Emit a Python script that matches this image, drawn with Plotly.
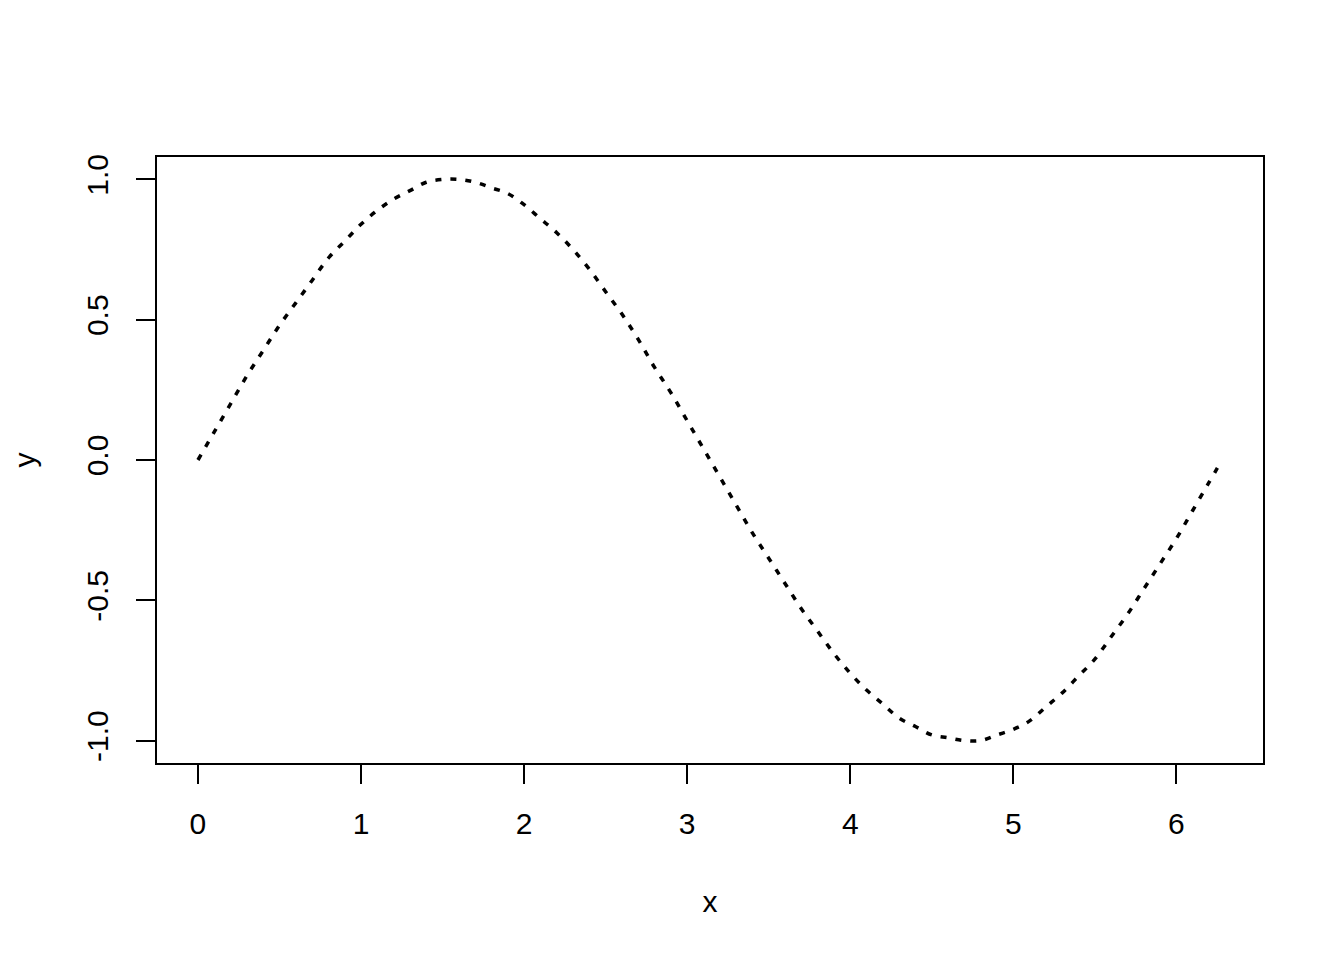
import plotly.graph_objects as go

x_vals = [0.0, 0.1, 0.2, 0.3, 0.4, 0.5, 0.6, 0.7, 0.8, 0.9,
          1.0, 1.1, 1.2, 1.3, 1.4, 1.5, 1.6, 1.7, 1.8, 1.9,
          2.0, 2.1, 2.2, 2.3, 2.4, 2.5, 2.6, 2.7, 2.8, 2.9,
          3.0, 3.1, 3.2, 3.3, 3.4, 3.5, 3.6, 3.7, 3.8, 3.9,
          4.0, 4.1, 4.2, 4.3, 4.4, 4.5, 4.6, 4.7, 4.8, 4.9,
          5.0, 5.1, 5.2, 5.3, 5.4, 5.5, 5.6, 5.7, 5.8, 5.9,
          6.0, 6.1, 6.2, 6.28]
y_vals = [0.00, 0.10, 0.20, 0.30, 0.39, 0.48, 0.56, 0.64, 0.72, 0.78,
          0.84, 0.89, 0.93, 0.96, 0.99, 1.00, 1.00, 0.99, 0.97, 0.95,
          0.91, 0.86, 0.81, 0.75, 0.68, 0.60, 0.52, 0.43, 0.33, 0.24,
          0.14, 0.04, -0.06, -0.16, -0.26, -0.35, -0.44, -0.53, -0.61, -0.69,
          -0.76, -0.82, -0.87, -0.92, -0.95, -0.98, -0.99, -1.00, -1.00, -0.98,
          -0.96, -0.93, -0.88, -0.83, -0.77, -0.71, -0.63, -0.55, -0.46, -0.37,
          -0.28, -0.18, -0.08, 0.00]
x_ticks = [0, 1, 2, 3, 4, 5, 6]
y_ticks = [-1.0, -0.5, 0.0, 0.5, 1.0]
y_tick_text = ["-1.0", "-0.5", "0.0", "0.5", "1.0"]

FONT = "Liberation Sans, Arial, sans-serif"
FS = 30

fig = go.Figure()
fig.add_trace(go.Scatter(
    x=x_vals, y=y_vals, mode="lines",
    line=dict(color="black", width=3.5, dash="6px,9px", shape="spline"),
    showlegend=False, hoverinfo="skip",
))

xr = [x_vals[0] - 0.04 * (x_vals[-1] - x_vals[0]), x_vals[-1] + 0.04 * (x_vals[-1] - x_vals[0])]
yr = [-1.08, 1.08]

fig.update_layout(
    width=1328, height=944,
    margin=dict(l=149, r=73, t=149, b=189),
    paper_bgcolor="white", plot_bgcolor="white",
    font=dict(family=FONT, size=FS, color="black"),
    xaxis=dict(
        range=xr, tickvals=x_ticks, ticktext=[str(t) for t in x_ticks],
        showgrid=False, zeroline=False, showline=True, mirror=True,
        linecolor="black", linewidth=2, ticks="outside", ticklen=19,
        tickwidth=2, tickcolor="black", ticklabelstandoff=14,
        tickfont=dict(size=FS), automargin=False,
        title=dict(text="x", standoff=52, font=dict(size=FS)),
    ),
    yaxis=dict(
        range=yr, tickvals=y_ticks, ticktext=y_tick_text, tickangle=-90,
        showgrid=False, zeroline=False, showline=True, mirror=True,
        linecolor="black", linewidth=2, ticks="outside", ticklen=19,
        tickwidth=2, tickcolor="black", ticklabelstandoff=16,
        tickfont=dict(size=FS), automargin=False,
        title=dict(text="y", standoff=44, font=dict(size=FS)),
    ),
)

fig.write_html("out.html")
